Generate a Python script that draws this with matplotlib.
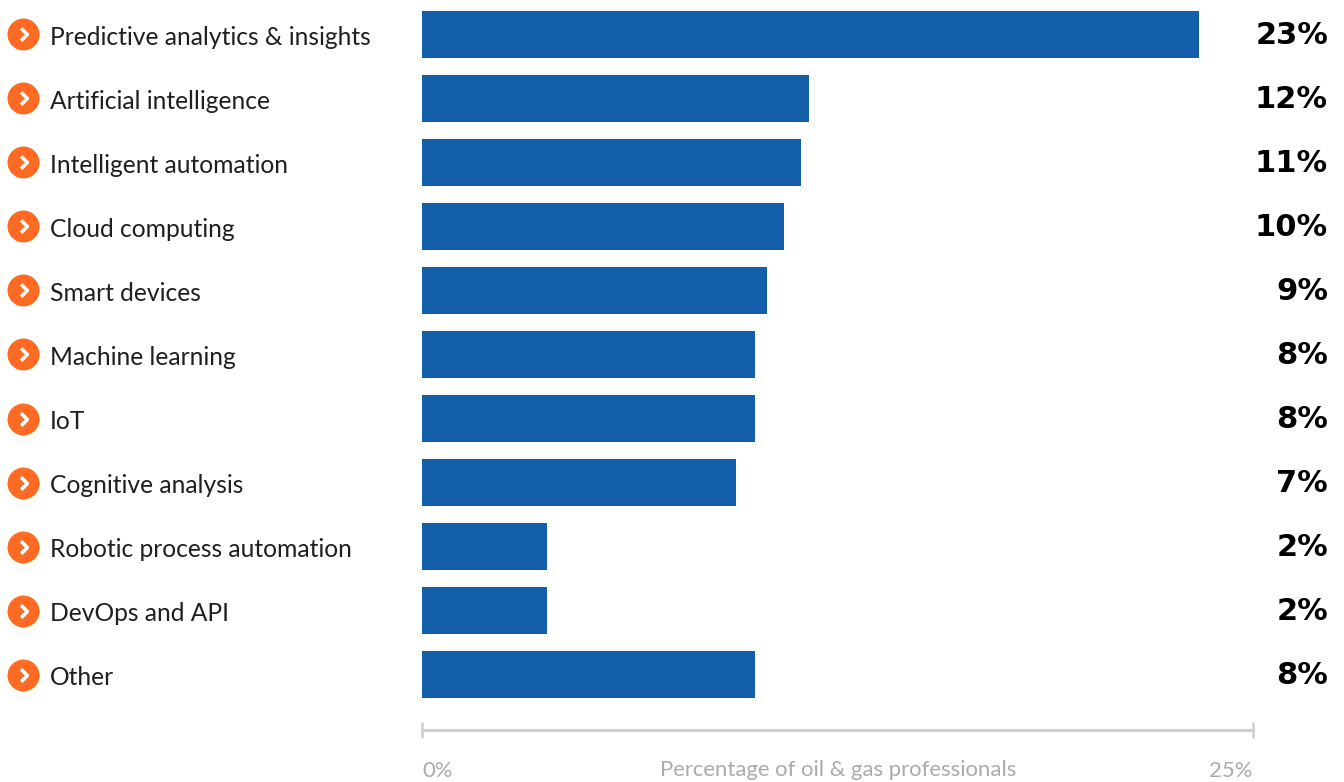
import matplotlib
matplotlib.use("Agg")
import matplotlib.pyplot as plt
from matplotlib.path import Path
from matplotlib.transforms import blended_transform_factory

categories = ["Predictive analytics & insights", "Artificial intelligence", "Intelligent automation",
              "Cloud computing", "Smart devices", "Machine learning", "IoT", "Cognitive analysis",
              "Robotic process automation", "DevOps and API", "Other"]
bar_values = [23.37, 11.63, 11.39, 10.90, 10.39, 10.03, 10.03, 9.46, 3.77, 3.77, 10.03]
value_labels = ["23%", "12%", "11%", "10%", "9%", "8%", "8%", "7%", "2%", "2%", "8%"]
x_ticks = [0, 25]
x_tick_labels = ["0%", "25%"]
x_label = "Percentage of oil & gas professionals"

W, H = 1344, 782
fig = plt.figure(figsize=(W / 100, H / 100), dpi=100)
fig.patch.set_facecolor("white")

left, right = 422, 1253
top, bottom = 2.5, 730
ax = fig.add_axes([left / W, 1 - bottom / H, (right - left) / W, (bottom - top) / H])
ypos = list(range(len(categories)))
ax.barh(ypos, bar_values, height=47 / 64, color="#135FAB", left=0)
ax.set_xlim(0, 25)
ax.set_ylim((bottom - 34.5) / 64, (top - 34.5) / 64)
for s in ["top", "right", "left"]:
    ax.spines[s].set_visible(False)
ax.spines["bottom"].set_color("#cfcfcf")
ax.spines["bottom"].set_linewidth(2.2)
ax.set_yticks([])
ax.set_xticks(x_ticks)
ax.set_xticklabels(x_tick_labels)
ax.tick_params(axis="x", direction="inout", length=11, width=1.8, color="#cfcfcf",
               labelsize=15.9, labelcolor="#ababab", pad=17)
tick_labs = ax.get_xticklabels()
for lab in tick_labs:
    lab.set_fontfamily("Lato")
tick_labs[0].set_ha("left")
tick_labs[-1].set_ha("right")
ax.text((838 - left) / (right - left), -(776 - bottom) / (bottom - top), x_label,
        transform=ax.transAxes, ha="center", va="baseline", fontsize=15.9, color="#ababab",
        fontfamily="Lato", clip_on=False)

tr = blended_transform_factory(fig.transFigure, ax.transData)
ax.scatter([22.5 / W] * len(categories), ypos, s=530, color="#FF6B22", transform=tr,
           clip_on=False, zorder=5, linewidths=0)
chevron = Path([(-0.3, 0.55), (0.25, 0.0), (-0.3, -0.55)], [Path.MOVETO, Path.LINETO, Path.LINETO])
ax.plot([23.5 / W] * len(categories), ypos, linestyle="none", marker=chevron, markersize=9,
        markerfacecolor="none", markeredgecolor="white", markeredgewidth=2.6,
        transform=tr, clip_on=False, zorder=6)
for y, cat, val in zip(ypos, categories, value_labels):
    ax.text(50 / W, y + 0.04, cat, transform=tr, ha="left", va="center", color="#1f1f1f",
            fontsize=17.7, fontfamily="Lato", clip_on=False)
    ax.text(1328 / W, y + 0.02, val, transform=tr, ha="right", va="center", color="black",
            fontsize=22, fontweight="bold", fontfamily="DejaVu Sans", clip_on=False)

fig.savefig("out.png", dpi=100, facecolor="white")
